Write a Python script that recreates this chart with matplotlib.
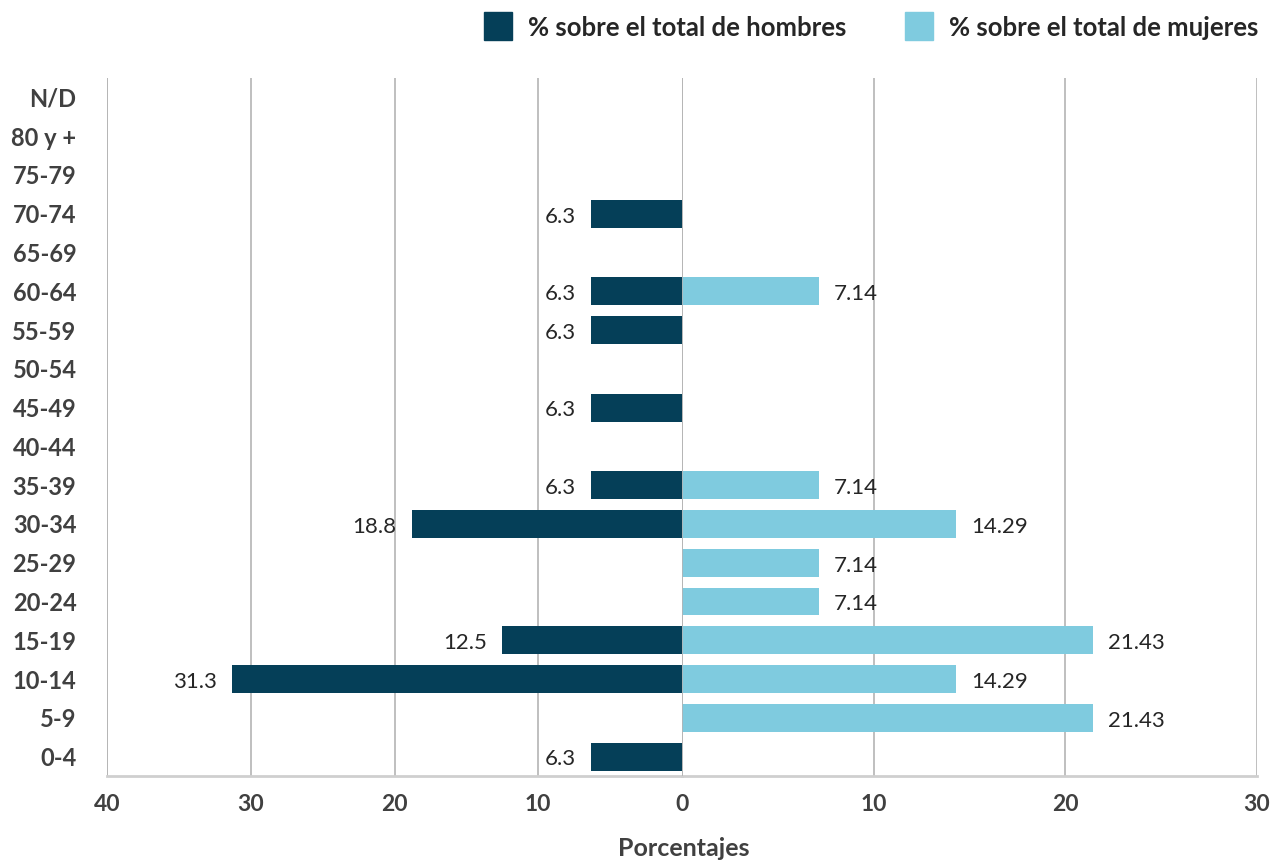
import matplotlib.pyplot as plt
import matplotlib.patches as mpatches

# ── Data (top to bottom as shown) ─────────────────────────────────────────────
grupos = ["N/D", "80 y +", "75-79", "70-74", "65-69", "60-64", "55-59", "50-54",
          "45-49", "40-44", "35-39", "30-34", "25-29", "20-24", "15-19", "10-14",
          "5-9", "0-4"]
hombres = [0, 0, 0, 6.3, 0, 6.3, 6.3, 0, 6.3, 0, 6.3, 18.8, 0, 0, 12.5, 31.3, 0, 6.3]
mujeres = [0, 0, 0, 0, 0, 7.14, 0, 0, 0, 0, 7.14, 14.29, 7.14, 7.14, 21.43, 14.29, 21.43, 0]
ticks_h = [40, 30, 20, 10]
ticks_m = [0, 10, 20, 30]

C_H = "#053f58"
C_M = "#7fcbdf"
GRID = "#b4b4b4"
TXT = "#404040"
FONT = "Lato"

plt.rcParams["font.family"] = [FONT, "DejaVu Sans"]

fig = plt.figure(figsize=(12.83, 8.63), dpi=100)
L, R, B, T = 107 / 1283, 1257 / 1283, 1 - 776 / 863, 1 - 78 / 863
half = (R - L) / 2
ax_h = fig.add_axes([L, B, half, T - B])
ax_m = fig.add_axes([L + half, B, half, T - B], sharey=ax_h)

n = len(grupos)
ypos = list(range(n - 1, -1, -1))

ax_h.barh(ypos, hombres, height=0.72, color=C_H, zorder=3)
ax_m.barh(ypos, mujeres, height=0.72, color=C_M, zorder=3)

ax_h.set_xlim(40, 0)
ax_m.set_xlim(0, 30)
ax_h.set_ylim(-0.5, n - 0.5)

for ax, tk in ((ax_h, ticks_h), (ax_m, ticks_m)):
    ax.set_xticks(tk)
    ax.set_xticklabels([str(t) for t in tk], fontweight="bold")
    ax.grid(axis="x", color=GRID, lw=1.2, zorder=0)
    for s in ("top", "left", "right"):
        ax.spines[s].set_visible(False)
    ax.spines["bottom"].set_color("#cfcfcf")
    ax.spines["bottom"].set_linewidth(2)
    ax.tick_params(axis="x", length=0, pad=13, labelsize=16.5, labelcolor=TXT)

ax_h.axvline(40, color=GRID, lw=1.2, zorder=0)
ax_m.axvline(0, color=GRID, lw=1.2, zorder=4)

ax_h.set_yticks(ypos)
ax_h.set_yticklabels(grupos, fontweight="bold")
ax_h.tick_params(axis="y", length=0, pad=22, labelsize=17, labelcolor=TXT)
for lab in ax_h.get_yticklabels():
    lab.set_verticalalignment("center_baseline")
ax_m.tick_params(axis="y", left=False, labelleft=False)

# value labels
for y, v in zip(ypos, hombres):
    if v:
        ax_h.annotate(f"{v:.1f}", (v, y), xytext=(-11, -2), textcoords="offset points",
                      ha="right", va="center", fontsize=16, color="#262626")
for y, v in zip(ypos, mujeres):
    if v:
        ax_m.annotate(f"{v:g}", (v, y), xytext=(11, -2), textcoords="offset points",
                      ha="left", va="center", fontsize=16, color="#262626")

fig.text(684 / 1283, 1 - 848 / 863, "Porcentajes", ha="center", va="center",
         fontsize=18, fontweight="bold", color=TXT)

# legend
for x0, col, txt in ((484, C_H, "% sobre el total de hombres"),
                     (905, C_M, "% sobre el total de mujeres")):
    fig.patches.append(mpatches.Rectangle((x0 / 1283, 1 - 40 / 863), 28 / 1283, 28 / 863,
                                          transform=fig.transFigure, color=col))
    fig.text((x0 + 44) / 1283, 1 - 28 / 863, txt, ha="left", va="center",
             fontsize=18.5, fontweight="bold", color="#262626")

fig.savefig("out.png", dpi=100, facecolor="white")
